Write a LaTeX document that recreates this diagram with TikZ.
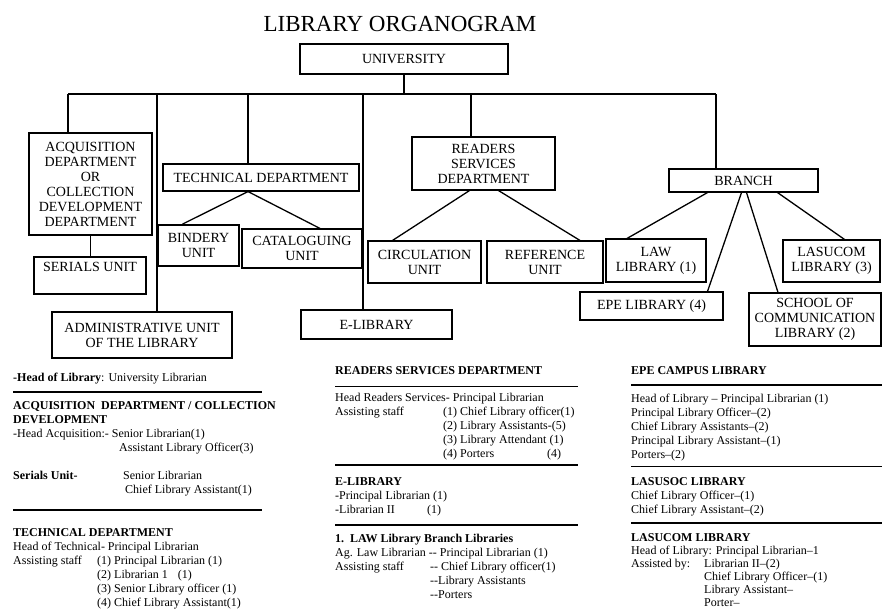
\documentclass[tikz,border=0pt]{standalone}
\usepackage{fontspec}
\setmainfont{Liberation Serif}

\newcommand{\lcol}[2]{\makebox[#1][l]{#2}}

\tikzset{
  box/.style={draw, line width=1.1pt, align=center, inner sep=1pt, font=\fontsize{14}{15}\selectfont},
  bbox/.style={box, line width=1.8pt},
  conn/.style={line width=1.3pt},
  txt/.style={anchor=base west, inner sep=0pt, font=\fontsize{12}{14}\selectfont},
  rulethin/.style={line width=1pt},
  rulethick/.style={line width=2.2pt}
}

\begin{document}
\begin{tikzpicture}[x=1pt,y=-1pt]
\useasboundingbox (0,0) rectangle (882,610);

\node[anchor=base, inner sep=0pt, font=\fontsize{23}{25}\selectfont] (title) at (400,31.5) {LIBRARY ORGANOGRAM};

% chart boxes
\node[bbox, minimum width=208pt, minimum height=30pt] (univ) at (404,59) {UNIVERSITY};
\node[bbox, minimum width=123pt, minimum height=102pt] (acq) at (90.5,184) {ACQUISITION\\DEPARTMENT\\OR\\COLLECTION\\DEVELOPMENT\\DEPARTMENT};
\node[box, minimum width=112pt, minimum height=37pt, text height=9pt, text depth=18pt] (serials) at (90,275.5) {SERIALS UNIT};
\node[box, minimum width=196pt, minimum height=27pt] (tech) at (261,177.5) {TECHNICAL DEPARTMENT};
\node[bbox, minimum width=81pt, minimum height=41pt] (bindery) at (198.5,245.5) {BINDERY\\UNIT};
\node[box, minimum width=120pt, minimum height=39pt] (catalog) at (302,248.5) {CATALOGUING\\UNIT};
\node[bbox, minimum width=180pt, minimum height=46pt] (admin) at (142,335) {ADMINISTRATIVE UNIT\\OF THE LIBRARY};
\node[box, minimum width=143pt, minimum height=53pt] (readers) at (483.5,163.5) {READERS\\SERVICES\\DEPARTMENT};
\node[box, minimum width=113pt, minimum height=42pt] (circ) at (424.5,262) {CIRCULATION\\UNIT};
\node[box, minimum width=116pt, minimum height=42pt] (ref) at (545,262) {REFERENCE\\UNIT};
\node[bbox, minimum width=151pt, minimum height=29pt] (elib) at (376.5,324.5) {E-LIBRARY};
\node[box, minimum width=149pt, minimum height=23pt] (branch) at (743.5,180.5) {BRANCH};
\node[box, minimum width=100pt, minimum height=43pt] (law) at (656,260.5) {LAW\\LIBRARY (1)};
\node[box, minimum width=97pt, minimum height=42pt] (lasucom) at (831.5,261) {LASUCOM\\LIBRARY (3)};
\node[box, minimum width=143pt, minimum height=28pt] (epe) at (651.5,306) {EPE LIBRARY (4)};
\node[box, minimum width=132pt, minimum height=53pt] (school) at (815,319.5) {SCHOOL OF\\COMMUNICATION\\LIBRARY (2)};

% bus under the university
\coordinate (b1) at (68,94);
\coordinate (b2) at (157,94);
\coordinate (b3) at (248,94);
\coordinate (b4) at (363,94);
\coordinate (b5) at (471,94);
\coordinate (b6) at (716,94);

\draw[conn] (univ.south) -- (univ.south |- b1);
\draw[conn] (b1) -- (b6);
\draw[conn] (b1) -- (b1 |- acq.north);
\draw[conn] (b2) -- (b2 |- admin.north);
\draw[conn] (b3) -- (b3 |- tech.north);
\draw[conn] (b4) -- (b4 |- elib.north);
\draw[conn] (b5) -- (b5 |- readers.north);
\draw[conn] (b6) -- (b6 |- branch.north);

\draw[conn] (acq.south) -- (acq.south |- serials.north);
\draw[conn] (b3 |- tech.south) -- ([xshift=-16pt]bindery.north);
\draw[conn] (b3 |- tech.south) -- ([xshift=18pt]catalog.north);
\draw[conn] ([xshift=-14pt]readers.south) -- ([xshift=-32pt]circ.north);
\draw[conn] ([xshift=15pt]readers.south) -- ([xshift=35pt]ref.north);
\draw[conn] ([xshift=-36pt]branch.south) -- ([xshift=-29pt]law.north);
\draw[conn] ([xshift=-2pt]branch.south) -- ([xshift=56pt]epe.north);
\draw[conn] ([xshift=3pt]branch.south) -- ([xshift=-37pt]school.north);
\draw[conn] ([xshift=34pt]branch.south) -- ([xshift=13pt]lasucom.north);

% left column
\node[txt] (headlib) at (13,381) {\textbf{-Head of Library}: University Librarian};
\draw[rulethick] (13,392) -- (262,392);
\node[txt] (acqtxt) at (13,409) {\begin{tabular}[t]{@{}l@{}}
\textbf{ACQUISITION\ \ DEPARTMENT / COLLECTION}\\
\textbf{DEVELOPMENT}\\
-Head Acquisition:- Senior Librarian(1)\\
\hspace*{106pt}Assistant Library Officer(3)
\end{tabular}};
\node[txt] (sertxt) at (13,479) {\begin{tabular}[t]{@{}l@{}}
\lcol{110pt}{\textbf{Serials Unit-}}Senior Librarian\\
\hspace*{112pt}Chief Library Assistant(1)
\end{tabular}};
\draw[rulethick] (13,510) -- (262,510);
\node[txt] (techtxt) at (13,536) {\begin{tabular}[t]{@{}l@{}}
\textbf{TECHNICAL DEPARTMENT}\\
Head of Technical- Principal Librarian\\
\lcol{84pt}{Assisting staff}(1) Principal Librarian (1)\\
\hspace*{84pt}(2) Librarian 1\hspace{10pt}(1)\\
\hspace*{84pt}(3) Senior Library officer (1)\\
\hspace*{84pt}(4) Chief Library Assistant(1)
\end{tabular}};

% middle column
\node[txt] (rsdhead) at (335,374) {\textbf{READERS SERVICES DEPARTMENT}};
\draw[rulethin] (335,386) -- (578,386);
\node[txt] (rsdtxt) at (335,401) {\begin{tabular}[t]{@{}l@{}}
Head Readers Services- Principal Librarian\\
\lcol{108pt}{Assisting staff}(1) Chief Library officer(1)\\
\hspace*{108pt}(2) Library Assistants-(5)\\
\hspace*{108pt}(3) Library Attendant (1)\\
\hspace*{108pt}\lcol{104pt}{(4) Porters}(4)
\end{tabular}};
\draw[rulethick] (335,465) -- (578,465);
\node[txt] (eltxt) at (335,485) {\begin{tabular}[t]{@{}l@{}}
\textbf{E-LIBRARY}\\
-Principal Librarian (1)\\
\lcol{92pt}{-Librarian II}(1)
\end{tabular}};
\draw[rulethick] (335,525) -- (578,525);
\node[txt] (lawtxt) at (335,542) {\begin{tabular}[t]{@{}l@{}}
\textbf{1.\ \ LAW Library Branch Libraries}\\
Ag. Law Librarian -{}- Principal Librarian (1)\\
\lcol{95pt}{Assisting staff}-{}- Chief Library officer(1)\\
\hspace*{95pt}-{}-Library Assistants\\
\hspace*{95pt}-{}-Porters
\end{tabular}};

% right column
\node[txt] (epehead) at (631,374) {\textbf{EPE CAMPUS LIBRARY}};
\draw[rulethick] (631,385) -- (882,385);
\node[txt] (epetxt) at (631,402) {\begin{tabular}[t]{@{}l@{}}
Head of Library -- Principal Librarian (1)\\
Principal Library Officer--(2)\\
Chief Library Assistants--(2)\\
Principal Library Assistant--(1)\\
Porters--(2)
\end{tabular}};
\draw[rulethin] (631,466) -- (882,466);
\node[txt] (soctxt) at (631,485) {\begin{tabular}[t]{@{}l@{}}
\textbf{LASUSOC LIBRARY}\\
Chief Library Officer--(1)\\
Chief Library Assistant--(2)
\end{tabular}};
\draw[rulethick] (631,523) -- (882,523);
\node[txt, font=\fontsize{12}{13}\selectfont] (comtxt) at (631,541) {\begin{tabular}[t]{@{}l@{}}
\textbf{LASUCOM LIBRARY}\\
Head of Library: Principal Librarian--1\\
\lcol{73pt}{Assisted by:}Librarian II--(2)\\
\hspace*{73pt}Chief Library Officer--(1)\\
\hspace*{73pt}Library Assistant--\\
\hspace*{73pt}Porter--
\end{tabular}};
\end{tikzpicture}
\end{document}
